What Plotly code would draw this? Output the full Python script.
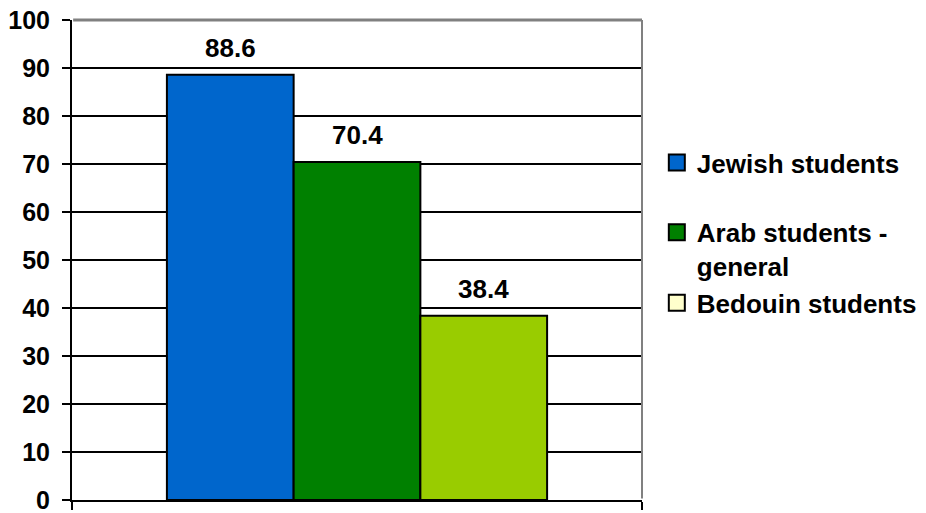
import plotly.graph_objects as go

categories = [""]
series_names = ["Jewish students", "Arab students -<br>general", "Bedouin students"]
series_values = [88.6, 70.4, 38.4]
bar_colors = ["#0066CC", "#008000", "#99CC00"]
legend_colors = ["#0066CC", "#008000", "#FFFFCC"]
legend_groups = ["a", "b", "b"]
y_ticks = [0, 10, 20, 30, 40, 50, 60, 70, 80, 90, 100]

FONT = "Liberation Sans, Arial, sans-serif"
BARGAP = 0.333
n = len(series_values)
bar_w = (1 - BARGAP) / n

fig = go.Figure()
for name, val, col in zip(series_names, series_values, bar_colors):
    fig.add_trace(go.Bar(
        x=categories, y=[val], name=name, showlegend=False,
        marker=dict(color=col, line=dict(color="black", width=2)),
    ))
for i, (name, col, grp) in enumerate(zip(series_names, legend_colors, legend_groups)):
    fig.add_trace(go.Scatter(
        x=[None], y=[None], mode="markers", name=f"<b>{name}</b>",
        legendgroup=grp,
        marker=dict(symbol="square", size=16, color=col, line=dict(color="black", width=2)),
    ))

annotations = []
for i, val in enumerate(series_values):
    annotations.append(dict(
        x=(i - (n - 1) / 2) * bar_w, y=val, xref="x", yref="y",
        text=f"<b>{val:.1f}</b>", showarrow=False, yanchor="bottom", yshift=10,
        font=dict(family=FONT, size=26, color="black"),
    ))

fig.update_layout(
    width=926, height=513,
    margin=dict(l=72, r=284, t=20, b=13, autoexpand=False),
    paper_bgcolor="white", plot_bgcolor="white",
    barmode="group", bargap=BARGAP, bargroupgap=0,
    font=dict(family=FONT, size=26, color="black"),
    legend=dict(
        x=1.026, xanchor="left", y=0.752, yanchor="top",
        font=dict(family=FONT, size=26, color="black"),
        tracegroupgap=33, valign="top", itemsizing="trace",
        bgcolor="rgba(0,0,0,0)",
    ),
    xaxis=dict(
        type="category", showticklabels=False, ticks="outside", tickson="boundaries",
        ticklen=8, tickwidth=2, tickcolor="black", automargin=False,
        showline=True, linecolor="black", linewidth=2, showgrid=False, zeroline=False,
    ),
    yaxis=dict(
        range=[0, 100], tickvals=y_ticks, ticktext=[f"<b>{t}</b>" for t in y_ticks],
        ticks="outside", ticklen=8, tickwidth=2, tickcolor="black", ticklabelstandoff=7,
        ticklabeloverflow="allow",
        showline=True, linecolor="black", linewidth=2, automargin=False,
        showgrid=True, gridcolor="black", gridwidth=2, zeroline=False,
        tickfont=dict(family=FONT, size=25, color="black"),
    ),
    annotations=annotations,
    shapes=[
        dict(type="line", xref="paper", yref="paper", x0=0.002, x1=1, y0=1, y1=1,
             line=dict(color="#808080", width=3), layer="above"),
        dict(type="line", xref="paper", yref="paper", x0=1, x1=1, y0=0.003, y1=1,
             line=dict(color="#808080", width=2), layer="above"),
    ],
)

fig.write_html("out.html")
